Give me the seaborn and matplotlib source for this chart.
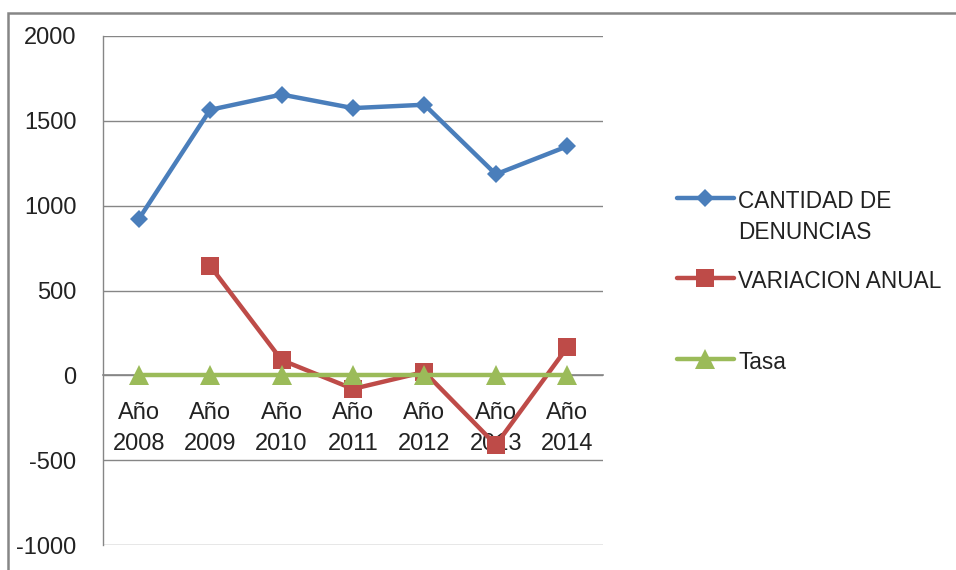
import numpy as np
import pandas as pd
import matplotlib
matplotlib.use('Agg')
import matplotlib.pyplot as plt
import seaborn as sns
from matplotlib.patches import Rectangle

# ================= 数据 =================
years = ['Año\n2008', 'Año\n2009', 'Año\n2010', 'Año\n2011', 'Año\n2012', 'Año\n2013', 'Año\n2014']
cantidad = [920, 1565, 1655, 1575, 1595, 1185, 1350]
variacion = [np.nan, 645, 90, -80, 20, -410, 165]
tasa = [0, 0, 0, 0, 0, 0, 0]
labels = ['CANTIDAD DE\nDENUNCIAS', 'VARIACION ANUAL', 'Tasa']

# ================= 样式 =================
sns.set_theme(style='white')
plt.rcParams['font.family'] = ['Liberation Sans', 'DejaVu Sans']
plt.rcParams['axes.unicode_minus'] = False
GRID = '#868686'
COLORS = ['#4A7EBB', '#BE4B48', '#9BBB59']
MARKERS = ['D', 's', '^']
MSIZES = [9.5, 13, 14]

df = pd.DataFrame({'pos': np.arange(len(years)), 'cantidad': cantidad,
                   'variacion': variacion, 'tasa': tasa})

fig = plt.figure(figsize=(9.56, 5.7), dpi=100)
fig.patch.set_facecolor('white')
ax = fig.add_axes([103 / 956, 1 - 545 / 570, 500 / 956, 509 / 570])

handles = []
for col, lab, c, mk, ms in zip(['cantidad', 'variacion', 'tasa'], labels, COLORS, MARKERS, MSIZES):
    sns.lineplot(data=df, x='pos', y=col, ax=ax, color=c, marker=mk, markersize=ms,
                 markeredgecolor=c, markeredgewidth=0, linewidth=3.2, label=lab,
                 legend=False, zorder=4, clip_on=False)
    handles.append(ax.lines[-1])

# ---- 坐标轴 ----
ax.set_xlim(-0.5, len(years) - 0.5)
ax.set_ylim(-1000, 2000)
ax.set_yticks(range(-1000, 2001, 500))
ax.yaxis.grid(True, color=GRID, lw=1)
ax.xaxis.grid(False)
ax.set_xlabel('')
ax.set_ylabel('')

for s in ['top', 'right']:
    ax.spines[s].set_visible(False)
ax.spines['left'].set_color(GRID)
ax.spines['left'].set_linewidth(1)
ax.spines['bottom'].set_position(('data', 0))
ax.spines['bottom'].set_color(GRID)
ax.spines['bottom'].set_linewidth(1.2)

ax.set_xticks(df['pos'])
ax.set_xticklabels(years, linespacing=1.55)
ax.set_xticks(np.arange(-0.5, len(years), 1), minor=True)
ax.tick_params(axis='x', which='major', length=0, pad=19, labelsize=17, colors='#222222')
ax.tick_params(axis='x', which='minor', length=4, width=1, color=GRID, direction='out')
ax.tick_params(axis='y', length=6, width=1, color=GRID, direction='out', pad=13,
               labelsize=17, labelcolor='#222222')

# ---- 图例 ----
leg_kw = dict(frameon=False, fontsize=16.3, handlelength=2.5, handletextpad=0.2,
              borderpad=0, borderaxespad=0, loc='upper left')
leg1 = fig.legend(handles[:2], labels[:2], bbox_to_anchor=(677 / 956, 1 - 190 / 570),
                  labelspacing=1.15, **leg_kw)
leg2 = fig.legend(handles[2:], labels[2:], bbox_to_anchor=(677 / 956, 1 - 351 / 570), **leg_kw)
for leg in (leg1, leg2):
    for t in leg.get_texts():
        t.set_linespacing(1.45)
        t.set_color('#222222')
    try:
        for column in leg._legend_handle_box.get_children():
            for row in column.get_children():
                row.align = 'top'
    except Exception:
        pass

# ---- 外框 ----
fig.add_artist(Rectangle((8 / 956, -1), 2, 2 - 12.5 / 570, transform=fig.transFigure,
                         fill=False, edgecolor=GRID, lw=1.8))

plt.savefig('out.png', dpi=100)
